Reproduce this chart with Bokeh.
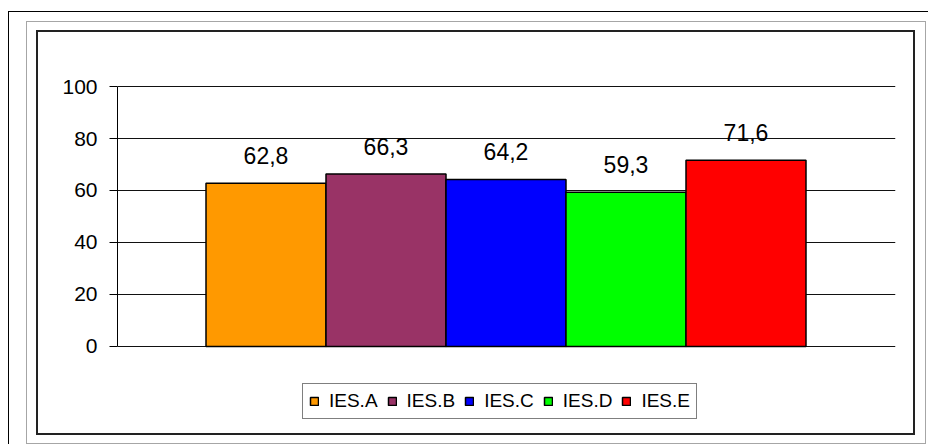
from bokeh.plotting import figure
from bokeh.layouts import column
from bokeh.models import ColumnDataSource, Range1d, FixedTicker, Legend, LegendItem
from bokeh.core.properties import value
from bokeh.embed import file_html
from bokeh.resources import INLINE

# ---- data ----
series = ["IES.A", "IES.B", "IES.C", "IES.D", "IES.E"]
values = [62.8, 66.3, 64.2, 59.3, 71.6]
colors = ["#FF9900", "#993366", "#0000FF", "#00FF00", "#FF0000"]
y_ticks = [0, 20, 40, 60, 80, 100]

FONT = "Liberation Sans"

src = ColumnDataSource(dict(
    x=list(range(len(series))),
    top=values,
    name=series,
    color=colors,
    label=[f"{v:.1f}".replace(".", ",") for v in values],
))

# figure sits inside the framed boxes (at page x=38, y=32), 875 x 401 px
p = figure(width=875, height=401, output_backend="svg", toolbar_location=None,
           x_range=Range1d(-1.2375, 5.2458), y_range=Range1d(-32.31, 100.77),
           min_border_left=79, min_border_right=18, min_border_top=52,
           min_border_bottom=3)
p.outline_line_color = None
p.background_fill_color = "white"
p.border_fill_color = "white"

bars = p.vbar(x="x", top="top", bottom=0, width=1.0, source=src,
              fill_color="color", line_color="black", line_width=1.5)

p.text(x="x", y="top", text="label", source=src, y_offset=-28,
       text_align="center", text_baseline="alphabetic",
       text_font=value(FONT), text_font_size="23px", text_color="black")

p.xaxis.visible = False
p.xgrid.visible = False
p.ygrid.grid_line_color = "#111111"
p.ygrid.grid_line_width = 1
p.yaxis.ticker = FixedTicker(ticks=y_ticks)
p.yaxis.bounds = (0, 100)
p.yaxis.axis_line_color = "black"
p.yaxis.major_tick_line_color = "black"
p.yaxis.major_tick_out = 8
p.yaxis.major_tick_in = 0
p.yaxis.minor_tick_line_color = None
p.yaxis.major_label_standoff = 12
p.yaxis.major_label_text_font = FONT
p.yaxis.major_label_text_font_size = "21px"
p.yaxis.major_label_text_color = "black"

items = [LegendItem(label=s, renderers=[bars], index=i) for i, s in enumerate(series)]
legend = Legend(items=items, orientation="horizontal", location=(185, 11),
                border_line_color="black", border_line_width=1,
                background_fill_color="white", background_fill_alpha=1,
                label_text_font=FONT, label_text_font_size="19px",
                label_text_color="black",
                glyph_width=10, glyph_height=10, label_standoff=10,
                spacing=9, padding=6, margin=0, label_height=20)
p.add_layout(legend, "center")

# nested frames around the chart
l3 = column(p, styles={"border": "2px solid #222222", "background": "white"})
l2 = column(l3, styles={"border": "1px solid #A6A6A6", "padding": "8px 10px 8px 9px",
                        "background": "white"})
l1 = column(l2, styles={"border-left": "1px solid black", "border-top": "1px solid black",
                        "padding": "9px 2px 0px 17px", "background": "white"})
page = column(l1, styles={"padding": "11px 0px 0px 8px", "background": "white"})

open("out.html", "w").write(file_html(page, INLINE))
